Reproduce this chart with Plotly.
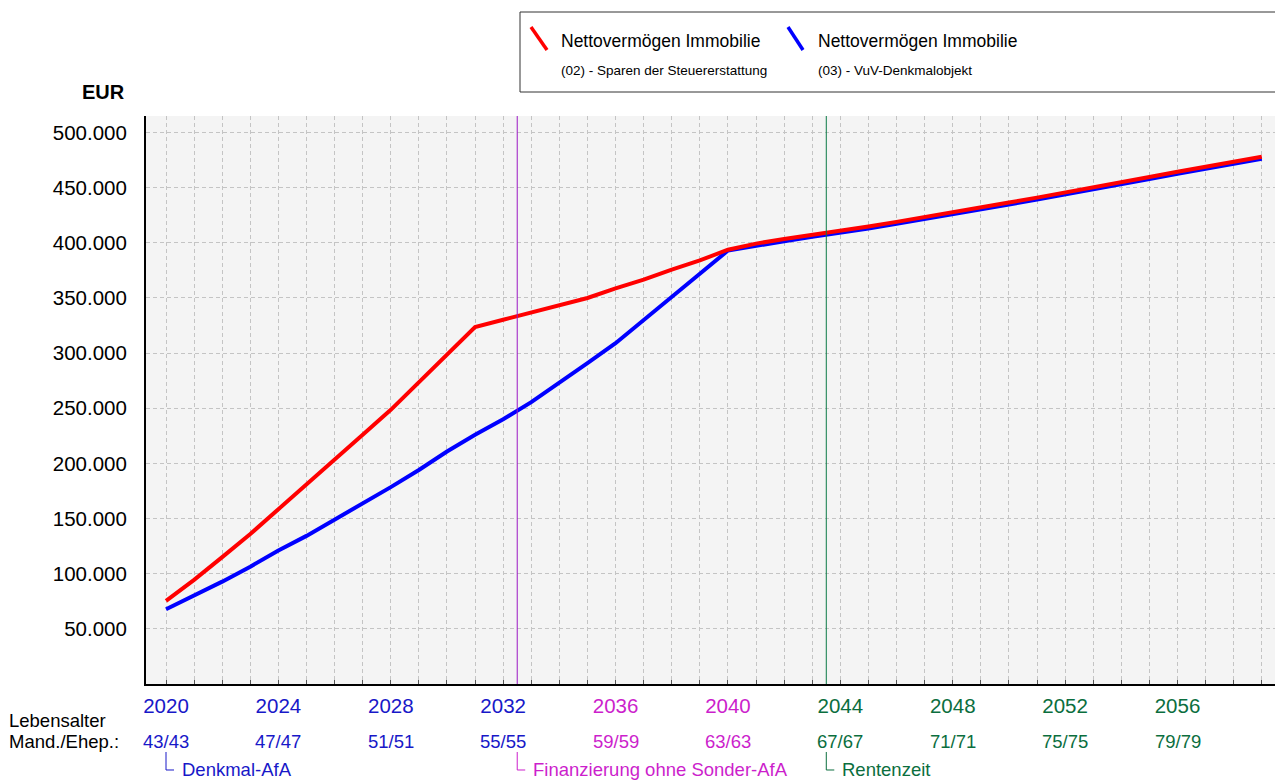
import plotly.graph_objects as go

# ---------------- data ----------------
years = list(range(2020, 2060))

red_values = [75300, 94400, 115000, 136000, 158500, 180600, 203000, 226000, 248600, 274000,
              298500, 323700, 330300, 336900, 343500, 350000, 358700, 366600, 375700, 384000,
              393800, 399300, 403500, 407000, 410500, 414800, 419000, 423200, 427500, 432000,
              436500, 441000, 445500, 450000, 455000, 459700, 464500, 469000, 473500, 478000]

blue_values = [67800, 79900, 92800, 106400, 121000, 134300, 148800, 163000, 178500, 194000,
               210800, 226000, 240000, 255600, 272800, 291000, 309000, 329700, 350900, 372000,
               393000, 397500, 401500, 405500, 409000, 413000, 417200, 421400, 425700, 430200,
               434700, 439200, 443700, 448200, 453200, 457900, 462700, 467200, 471700, 476200]

red_name = "Nettovermögen Immobilie"
red_sub = "(02) - Sparen der Steuererstattung"
blue_name = "Nettovermögen Immobilie"
blue_sub = "(03) - VuV-Denkmalobjekt"

tick_years = [2020, 2024, 2028, 2032, 2036, 2040, 2044, 2048, 2052, 2056]
tick_ages = ["43/43", "47/47", "51/51", "55/55", "59/59", "63/63", "67/67", "71/71", "75/75", "79/79"]
tick_phase = [0, 0, 0, 0, 1, 1, 2, 2, 2, 2]

phase_starts = [2020, 2032.5, 2043.5]
phase_labels = ["Denkmal-AfA", "Finanzierung ohne Sonder-AfA", "Rentenzeit"]
phase_colors = ["#1818c8", "#cc1fcc", "#0b6e3e"]
phase_line_colors = [None, "#9b17c4", "#0b7a45"]

y_ticks = [50000, 100000, 150000, 200000, 250000, 300000, 350000, 400000, 450000, 500000]

# ---------------- layout geometry ----------------
W, H = 1275, 780
L, R, T, B = 146, 0, 116, 96
PW, PH = W - L - R, H - T - B
FONT = "Arial, Liberation Sans, sans-serif"


def px(xp):
    return (xp - L) / PW


def py(yp):
    return (H - B - yp) / PH


fig = go.Figure()

fig.add_trace(go.Scatter(x=years, y=blue_values, mode="lines", name=blue_name + " " + blue_sub,
                         line=dict(color="#0000ff", width=4), showlegend=False))
fig.add_trace(go.Scatter(x=years, y=red_values, mode="lines", name=red_name + " " + red_sub,
                         line=dict(color="#ff0000", width=4), showlegend=False))

shapes = []
annotations = []

# phase vertical lines
for start, lc in zip(phase_starts, phase_line_colors):
    if lc:
        shapes.append(dict(type="line", xref="x", yref="paper", x0=start, x1=start, y0=0, y1=1,
                           line=dict(color=lc, width=1)))

# tick labels coloured by phase
tick_text = ["<span style='color:%s'>%d</span>" % (phase_colors[p], y) for y, p in zip(tick_years, tick_phase)]

# age row
for yv, age, p in zip(tick_years, tick_ages, tick_phase):
    annotations.append(dict(x=yv, y=py(741), xref="x", yref="paper", text=age, showarrow=False,
                            xanchor="center", yanchor="middle",
                            font=dict(family=FONT, size=18.5, color=phase_colors[p])))

# phase brackets and labels
for start, lab, col in zip(phase_starts, phase_labels, phase_colors):
    shapes.append(dict(type="path", xref="x", yref="paper", xsizemode="pixel", xanchor=start,
                       path="M 0,%f L 0,%f L 8,%f" % (py(752), py(770), py(770)),
                       line=dict(color=col, width=1)))
    annotations.append(dict(x=start, y=py(769), xref="x", yref="paper", text=lab, showarrow=False,
                            xanchor="left", yanchor="middle", xshift=14,
                            font=dict(family=FONT, size=18.5, color=col)))

# left labels
annotations.append(dict(x=px(7), y=py(720), xref="paper", yref="paper", text="Lebensalter",
                        showarrow=False, xanchor="left", yanchor="middle",
                        font=dict(family=FONT, size=18.5, color="black")))
annotations.append(dict(x=px(7), y=py(741), xref="paper", yref="paper", text="Mand./Ehep.:",
                        showarrow=False, xanchor="left", yanchor="middle",
                        font=dict(family=FONT, size=18.5, color="black")))
annotations.append(dict(x=px(127), y=py(92), xref="paper", yref="paper", text="<b>EUR</b>",
                        showarrow=False, xanchor="right", yanchor="middle",
                        font=dict(family=FONT, size=20, color="black")))

# manual legend
shapes.append(dict(type="rect", xref="paper", yref="paper", x0=px(520), x1=px(1300), y0=py(92), y1=py(12),
                   line=dict(color="#333333", width=1), fillcolor="white", layer="above"))
for (x0, x1), col, name, sub, tx in [((531, 547), "#ff0000", red_name, red_sub, 559),
                                     ((788, 803), "#0000ff", blue_name, blue_sub, 816)]:
    shapes.append(dict(type="line", xref="paper", yref="paper", x0=px(x0), x1=px(x1), y0=py(27), y1=py(50),
                       line=dict(color=col, width=3.5), layer="above"))
    annotations.append(dict(x=px(tx), y=py(41), xref="paper", yref="paper", text=name, showarrow=False,
                            xanchor="left", yanchor="middle",
                            font=dict(family=FONT, size=17.5, color="black")))
    annotations.append(dict(x=px(tx), y=py(70), xref="paper", yref="paper", text=sub, showarrow=False,
                            xanchor="left", yanchor="middle",
                            font=dict(family=FONT, size=13.5, color="black")))

grid_style = dict(gridcolor="#c4c4c4", griddash="4px,3px", gridwidth=1)

fig.update_layout(
    width=W, height=H,
    margin=dict(l=L, r=R, t=T, b=B, pad=0),
    paper_bgcolor="white", plot_bgcolor="#f4f4f4",
    separators=",.",
    font=dict(family=FONT, size=20, color="black"),
    shapes=shapes, annotations=annotations,
    xaxis=dict(range=[2019.288, 2059.47], tickmode="array", tickvals=tick_years, ticktext=tick_text,
               showline=True, linecolor="black", linewidth=2, mirror=False,
               ticks="inside", ticklen=4, tickcolor="#555555",
               showgrid=True, **grid_style,
               minor=dict(dtick=1, tick0=2020, showgrid=True, ticks="inside", ticklen=4, tickcolor="#555555",
                          **grid_style),
               tickfont=dict(family=FONT, size=20.5), ticklabelstandoff=2, zeroline=False),
    yaxis=dict(range=[0, 515000], tickmode="array", tickvals=y_ticks, tickformat=",.0f",
               showline=True, linecolor="black", linewidth=2, ticks="", showgrid=True, **grid_style,
               tickfont=dict(family=FONT, size=20.5), ticklabelstandoff=13, zeroline=False),
)

fig.write_html("out.html", config={"displayModeBar": False},
               post_script="document.body.style.margin='0px';document.body.style.overflow='hidden';")
